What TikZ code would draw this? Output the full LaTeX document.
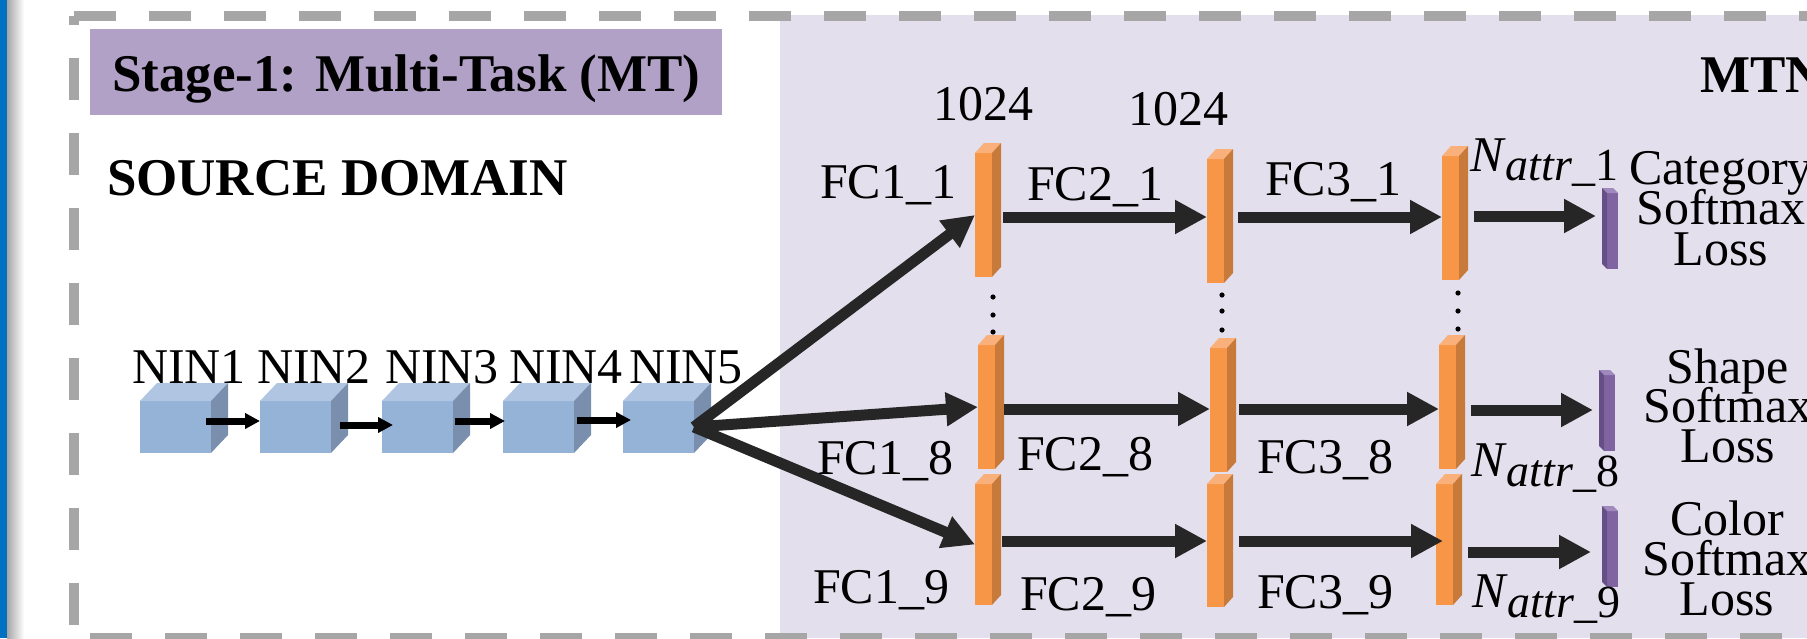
\documentclass[tikz,border=0pt]{standalone}
\usepackage{fontspec}
\setmainfont{Liberation Serif}
\usetikzlibrary{arrows.meta}
\definecolor{lav}{HTML}{E4DFEC}
\definecolor{titlebg}{HTML}{B2A1C7}
\definecolor{dashgray}{HTML}{A6A6A6}
\definecolor{leftblue}{HTML}{0070C0}
\definecolor{cubefront}{HTML}{95B3D7}
\definecolor{cubetop}{HTML}{AFC5E2}
\definecolor{cubeside}{HTML}{7A8FAD}
\definecolor{orfront}{HTML}{F79646}
\definecolor{ortop}{HTML}{FAB07A}
\definecolor{orside}{HTML}{C77A3A}
\definecolor{pufront}{HTML}{8064A2}
\definecolor{puside}{HTML}{654F86}
\definecolor{putop}{HTML}{A08ABD}
\definecolor{arrowgray}{HTML}{262626}
\newcommand\regfont{\fontsize{50}{50}\selectfont}
\newcommand\bldfont{\fontsize{53}{53}\selectfont\bfseries}
\newcommand\subfont{\fontsize{46}{46}\selectfont}
\tikzset{
  lbl/.style={inner sep=0pt, outer sep=0pt, anchor=base west, font=\regfont},
  blbl/.style={inner sep=0pt, outer sep=0pt, anchor=base west, font=\bldfont},
  losslbl/.style={inner sep=0pt, outer sep=0pt, anchor=base, font=\regfont},
  dashln/.style={draw=dashgray, line width=10pt, dash pattern=on 42pt off 33pt},
  cubebox/.style={fill=cubefront, minimum width=71pt, minimum height=52pt, inner sep=0pt, outer sep=0pt},
  barbox/.style={fill=orfront, minimum width=17pt, inner sep=0pt, outer sep=0pt},
  pbox/.style={fill=pufront, minimum width=11pt, minimum height=76pt, inner sep=0pt, outer sep=0pt},
  smallarrow/.style={draw=black, line width=7pt, -{Triangle[length=15pt,width=15pt]}},
  bigarrow/.style={draw=arrowgray, line width=11pt, -{Triangle[length=32pt,width=32pt]}},
  dotmark/.style={fill=black}
}
\newcommand\mkcube[2]{%
  \node[cubebox, anchor=north west] (#1) at (#2,401) {};
  \fill[cubetop] (#1.north west) -- ++(17,-18) -- ++(71,0) -- ++(-17,18) -- cycle;
  \fill[cubeside] (#1.north east) -- ++(17,-18) -- ++(0,52) -- ++(-17,18) -- cycle;
}
\newcommand\mkbar[4]{%
  \node[barbox, minimum height=#4pt, anchor=north west] (#1) at (#2,#3) {};
  \fill[ortop] (#1.north west) -- ++(9,-10) -- ++(17,0) -- ++(-9,10) -- cycle;
  \fill[orside] (#1.north east) -- ++(9,-10) -- ++(0,#4) -- ++(-9,10) -- cycle;
}
\newcommand\mkpbar[3]{%
  \node[pbox, anchor=north west] (#1) at (#2,#3) {};
  \fill[putop] (#1.north west) -- ++(-5,-5) -- ++(11,0) -- ++(5,5) -- cycle;
  \fill[puside] (#1.north west) -- ++(-5,-5) -- ++(0,76) -- ++(5,5) -- cycle;
}
\begin{document}
\begin{tikzpicture}[x=1pt,y=-1pt]
\useasboundingbox (0,0) rectangle (1807,638);
\clip (0,0) rectangle (1807,638);
\fill[white] (0,0) rectangle (1807,638);
\fill[leftblue] (0,0) rectangle (7,638);
\shade[left color=black!35, right color=white] (7,0) rectangle (24,638);
\fill[lav] (780,15) rectangle (1807,638);
\draw[dashln] (74,16) -- (1830,16);
\draw[dashln, dash phase=33pt] (74,16) -- (74,660);
\draw[dashln, dash phase=59pt] (74,638) -- (1830,638);

% title
\node[fill=titlebg, minimum width=632pt, minimum height=86pt, text height=38pt, text depth=0pt,
      inner sep=0pt, anchor=north west, font=\bldfont] (title) at (90,29) {Stage-1: Multi-Task (MT)};
\node[blbl] (src) at (107,195) {SOURCE DOMAIN};
\node[blbl] (mtn) at (1700,92) {MTN};

% cubes
\mkcube{n1}{140}
\mkcube{n2}{260}
\mkcube{n3}{382}
\mkcube{n4}{503}
\mkcube{n5}{623}
\node[lbl] (l1) at (132,383) {NIN1};
\node[lbl] (l2) at (257,383) {NIN2};
\node[lbl] (l3) at (385,383) {NIN3};
\node[lbl] (l4) at (509,383) {NIN4};
\node[lbl] (l5) at (629,383) {NIN5};
\draw[smallarrow] ([xshift=-5pt,yshift=6pt]n1.east) -- ([yshift=6pt]n2.west);
\draw[smallarrow] ([xshift=9pt,yshift=2pt]n2.east) -- ([xshift=11pt,yshift=2pt]n3.west);
\draw[smallarrow] ([xshift=2pt,yshift=6pt]n3.east) -- ([xshift=2pt,yshift=6pt]n4.west);
\draw[smallarrow] ([xshift=3pt,yshift=7pt]n4.east) -- ([xshift=8pt,yshift=7pt]n5.west);

% FC bars
\mkbar{b11}{975}{153}{124}
\mkbar{b12}{1207}{159}{124}
\mkbar{b13}{1442}{156}{124}
\mkbar{b81}{978}{345}{124}
\mkbar{b82}{1210}{348}{124}
\mkbar{b83}{1439}{345}{124}
\mkbar{b91}{975}{484}{121}
\mkbar{b92}{1207}{484}{123}
\mkbar{b93}{1436}{484}{121}
\mkpbar{p1}{1607}{193}
\mkpbar{p8}{1604}{375}
\mkpbar{p9}{1607}{511}

% dots
\foreach \x/\a/\b/\c in {993/297/315/332, 1222/295/311/330, 1458/293/311/329}{
  \fill[dotmark] (\x,\a) circle (2.6pt);
  \fill[dotmark] (\x,\b) circle (2.6pt);
  \fill[dotmark] (\x,\c) circle (2.6pt);
}

% row heights for arrows
\coordinate (r1) at (0,217);
\coordinate (s1) at (0,216);
\coordinate (r8) at (0,409);
\coordinate (s8) at (0,410);
\coordinate (r9) at (0,541);
\coordinate (s9) at (0,552);

% arrows from NIN5
\draw[bigarrow] (n5.east) -- (b11.west);
\draw[bigarrow] (n5.east) -- (b81.west);
\draw[bigarrow] (n5.east) -- (b91.west);

\draw[bigarrow, shorten <=11pt] (b11.east |- r1) -- (b12.west |- r1);
\draw[bigarrow, shorten <=14pt] (b12.east |- r1) -- (b13.west |- r1);
\draw[bigarrow, shorten <=15pt, shorten >=11pt] (b13.east |- s1) -- (p1.west |- s1);
\draw[bigarrow, shorten <=9pt] (b81.east |- r8) -- (b82.west |- r8);
\draw[bigarrow, shorten <=12pt] (b82.east |- r8) -- (b83.west |- r8);
\draw[bigarrow, shorten <=15pt, shorten >=11pt] (b83.east |- s8) -- (p8.west |- s8);
\draw[bigarrow, shorten <=10pt] (b91.east |- r9) -- (b92.west |- r9);
\draw[bigarrow, shorten <=15pt, shorten >=-7pt] (b92.east |- r9) -- (b93.west |- r9);
\draw[bigarrow, shorten <=15pt, shorten >=16pt] (b93.east |- s9) -- (p9.west |- s9);

% FC labels
\node[lbl] (d1) at (933,120) {1024};
\node[lbl] (d2) at (1128,125) {1024};
\node[lbl] (f11) at (820,198) {FC1\_1};
\node[lbl] (f21) at (1027,200) {FC2\_1};
\node[lbl] (f31) at (1265,195) {FC3\_1};
\node[lbl] (f18) at (817,474) {FC1\_8};
\node[lbl] (f28) at (1017,470) {FC2\_8};
\node[lbl] (f38) at (1257,473) {FC3\_8};
\node[lbl] (f19) at (813,603) {FC1\_9};
\node[lbl] (f29) at (1020,610) {FC2\_9};
\node[lbl] (f39) at (1257,608) {FC3\_9};

\node[lbl] (na1) at (1470,171) {\textit{N}\raisebox{-9pt}{\subfont\textit{attr}\_1}};
\node[lbl] (na8) at (1471,476) {\textit{N}\raisebox{-10pt}{\subfont\textit{attr}\_8}};
\node[lbl] (na9) at (1472,607) {\textit{N}\raisebox{-10pt}{\subfont\textit{attr}\_9}};

% loss labels
\node[losslbl] (c1) at (1721,184) {Category};
\node[losslbl] (c2) at (1721,224) {Softmax};
\node[losslbl] (c3) at (1721,265) {Loss};
\node[losslbl] (h1) at (1728,383) {Shape};
\node[losslbl] (h2) at (1728,422) {Softmax};
\node[losslbl] (h3) at (1728,462) {Loss};
\node[losslbl] (o1) at (1727,535) {Color};
\node[losslbl] (o2) at (1727,575) {Softmax};
\node[losslbl] (o3) at (1727,615) {Loss};
\end{tikzpicture}
\end{document}
